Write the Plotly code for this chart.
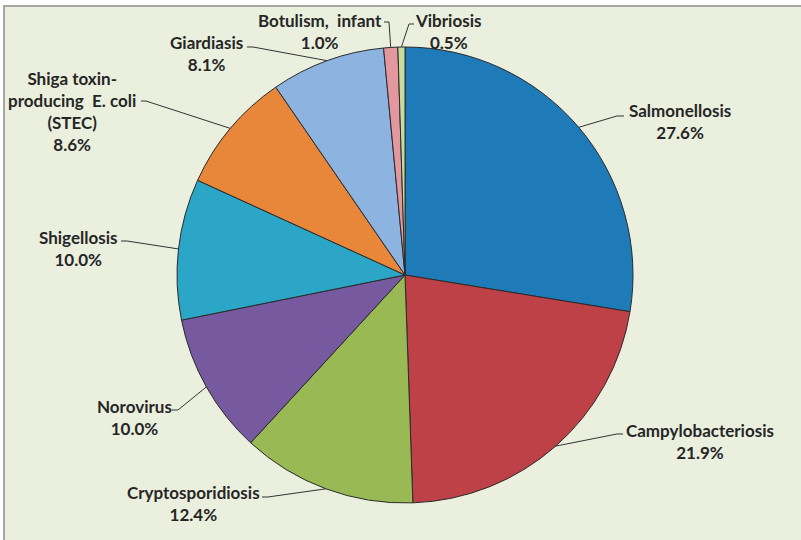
import math
import plotly.graph_objects as go

# ---- data ----
diseases = ["Salmonellosis", "Campylobacteriosis", "Cryptosporidiosis", "Norovirus",
            "Shigellosis", "Shiga toxin-<br>producing  E. coli<br>(STEC)", "Giardiasis",
            "Botulism,  infant", "Vibriosis"]
percents = [27.6, 21.9, 12.4, 10.0, 10.0, 8.6, 8.1, 1.0, 0.5]
colors = ["#1F7BB8", "#BE4147", "#98B954", "#76599F", "#2BA6C6",
          "#E8863A", "#8DB4E0", "#E3979F", "#C6DDA0"]

# label block centres (pixels, from top-left)
label_pos = [(680, 122), (700, 441), (193, 503), (134, 417), (78, 248),
             (72, 112), (206, 54), (320, 32), (448, 32)]
# leader line: (end at label, elbow) in pixels
leader_pts = [((624, 116), (617, 116)), ((623, 434), (617, 434)),
              ((262, 497), (268, 497)), ((172, 410), (178, 410)),
              ((121, 241), (127, 241)), ((141, 101), (146, 101)),
              ((247, 47), (253, 47)), ((384, 22), (389, 22)),
              ((414, 24), (409, 24))]

W, H = 801, 540
cx, cy, r = 405, 275, 228

fig = go.Figure(go.Pie(
    labels=diseases, values=percents, sort=False, direction="clockwise", rotation=0,
    marker=dict(colors=colors, line=dict(color="#2a2a2a", width=1)),
    textinfo="none", hoverinfo="label+percent", showlegend=False,
    domain=dict(x=[(cx - r) / W, (cx + r) / W], y=[(H - cy - r) / H, (H - cy + r) / H]),
))


def P(x, y):
    return f"{x / W:.5f},{1 - y / H:.5f}"


total = sum(percents)
cum = 0.0
annotations = []
shapes = [dict(type="rect", xref="paper", yref="paper", x0=4 / W, x1=1.02,
               y0=-0.02, y1=1 - 6 / H, fillcolor="#EBF0DE",
               line=dict(color="#A6A6A6", width=2), layer="below")]
for name, v, (lx, ly), (end, elbow) in zip(diseases, percents, label_pos, leader_pts):
    theta = math.radians(360.0 * (cum + v / 2) / total)
    cum += v
    px = cx + r * math.sin(theta)
    py = cy - r * math.cos(theta)
    annotations.append(dict(
        x=lx / W, y=1 - ly / H, xref="paper", yref="paper",
        text=f"<b>{name}<br>{v:.1f}%</b>", showarrow=False,
        xanchor="center", yanchor="middle",
        font=dict(family="Lato", size=17, color="#262626"), align="center",
    ))
    shapes.append(dict(type="path", xref="paper", yref="paper",
                       path=f"M{P(px, py)} L{P(*elbow)} L{P(*end)}",
                       line=dict(color="#333333", width=1)))

fig.update_layout(
    width=W, height=H, margin=dict(l=0, r=0, t=0, b=0),
    paper_bgcolor="white", plot_bgcolor="white",
    annotations=annotations, shapes=shapes,
)
fig.write_html("out.html", config={"displayModeBar": False},
               post_script="document.body.style.margin='0';document.body.style.overflow='hidden';")
